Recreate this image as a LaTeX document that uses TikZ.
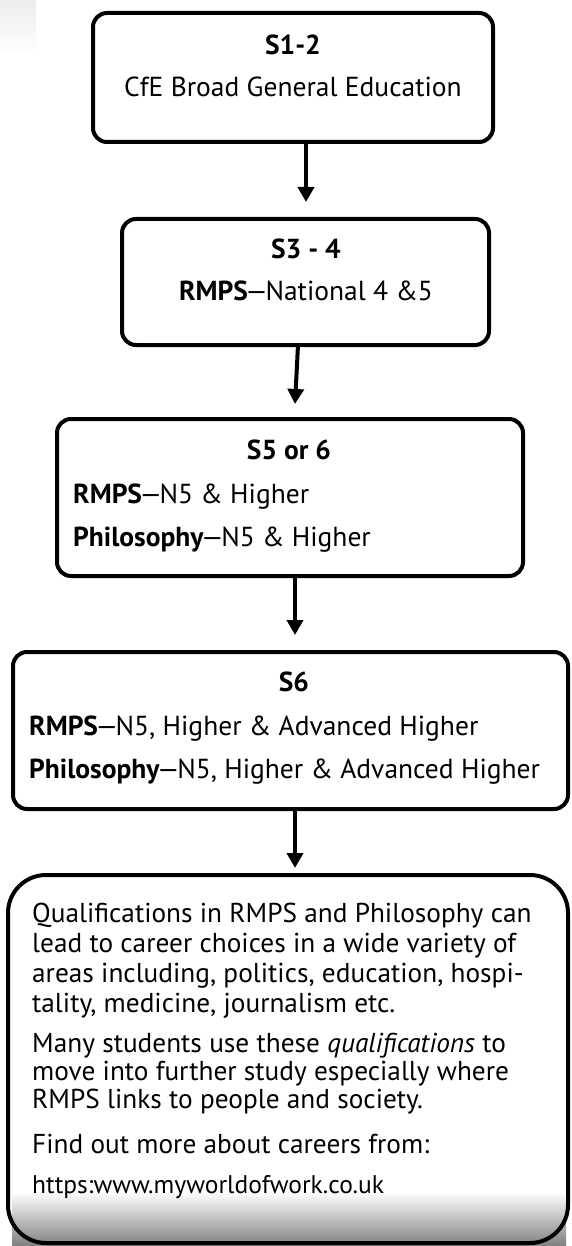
\documentclass[tikz,border=0pt]{standalone}
\usepackage{fontspec}
\setmainfont{PT Sans}
\usetikzlibrary{arrows.meta}
\newcommand{\stagedash}{\kern-2.5pt—\kern-2.5pt}
\begin{document}
\begin{tikzpicture}[x=1pt,y=-1pt,
  stagebox/.style={draw=black, line width=4pt, rounded corners=14pt, inner sep=0pt, outer sep=0pt, anchor=north west},
  infobox/.style={draw=black, line width=4pt, rounded corners=38pt, inner sep=0pt, outer sep=0pt, anchor=north west},
  flowarrow/.style={line width=4pt, -{Triangle[width=16pt,length=15pt]}},
  boxtext/.style={font=\fontsize{27.5}{30}\selectfont, inner sep=0pt},
  infotext/.style={font=\fontsize{27.3}{30}\selectfont, inner sep=0pt, align=left, anchor=base west},
]
\useasboundingbox (0,0) rectangle (571,1246);
% faint artefact top left
\shade[top color=black!7, bottom color=white] (0,0) rectangle (36,56);
% bottom shading of last box
\shade[top color=white, bottom color=black!50] (12,1192) rectangle (566,1246);

% boxes
\node[stagebox, minimum width=400pt, minimum height=129pt] (b1) at (93,13) {};
\node[stagebox, minimum width=367pt, minimum height=126pt] (b2) at (122,219) {};
\node[stagebox, minimum width=466pt, minimum height=157pt] (b3) at (57,419) {};
\node[stagebox, minimum width=555pt, minimum height=157pt] (b4) at (13,652) {};
\node[infobox, minimum width=560pt, minimum height=368pt] (b5) at (8,875) {};

% texts
\node[boxtext, anchor=base] (t1a) at (293,55) {\bfseries S1-2};
\node[boxtext, anchor=base] (t1b) at (293,97) {CfE Broad General Education};
\node[boxtext, anchor=base] (t2a) at (306,259) {\bfseries S3 - 4};
\node[boxtext, anchor=base] (t2b) at (306,301) {\textbf{RMPS}\stagedash National 4 \&5};
\node[boxtext, anchor=base] (t3a) at (289,459) {\bfseries S5 or 6};
\node[boxtext, anchor=base west] (t3b) at (73,503) {\textbf{RMPS}\stagedash N5 \& Higher};
\node[boxtext, anchor=base west] (t3c) at (73,546) {\textbf{Philosophy}\stagedash N5 \& Higher};
\node[boxtext, anchor=base] (t4a) at (294,691) {\bfseries S6};
\node[boxtext, anchor=base west] (t4b) at (29,735) {\textbf{RMPS}\stagedash N5, Higher \& Advanced Higher};
\node[boxtext, anchor=base west] (t4c) at (29,778) {\textbf{Philosophy}\stagedash N5, Higher \& Advanced Higher};

\node[infotext] (p1) at (32,1012) {Qualifications in RMPS and Philosophy can\\lead to career choices in a wide variety of\\areas including, politics, education, hospi-\\tality, medicine, journalism etc.};
\node[infotext, font=\fontsize{27.3}{28}\selectfont] (p2) at (32,1108) {Many students use these \textit{qualifications} to\\move into further study especially where\\RMPS links to people and society.};
\node[infotext] (p3) at (32,1153) {Find out more about careers from:};
\node[infotext, font=\fontsize{25.5}{28}\selectfont] (p4) at (32,1193) {https:www.myworldofwork.co.uk};

% arrows
\coordinate (a1e) at (306,202);
\coordinate (a2e) at (295,404);
\coordinate (a3e) at (295,635);
\coordinate (a4e) at (295,868);
\draw[flowarrow] (b1.south -| a1e) -- (a1e);
\draw[flowarrow] ([xshift=-7.5pt]b2.south) -- (a2e);
\draw[flowarrow] (b3.south -| a3e) -- (a3e);
\draw[flowarrow] (b4.south -| a4e) -- (a4e);
\end{tikzpicture}
\end{document}
